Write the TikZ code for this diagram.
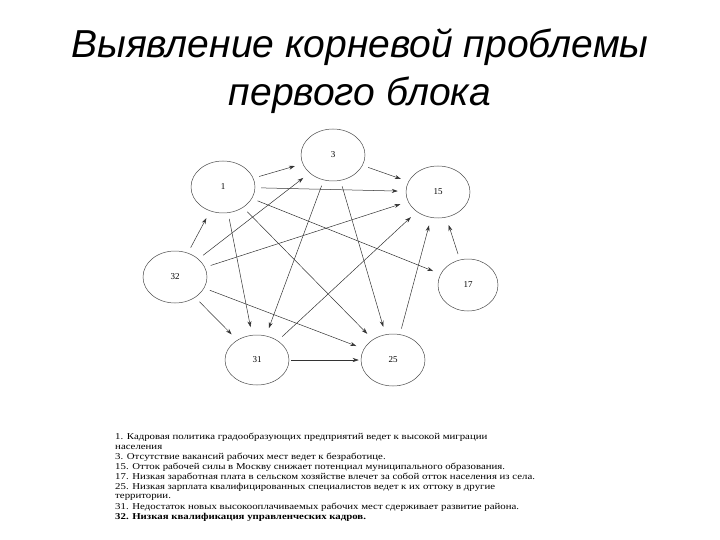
\documentclass[tikz,border=0pt]{standalone}
\usepackage{fontspec}
\setmainfont{Liberation Serif}
\newfontfamily\titlefont{Liberation Sans}
\usetikzlibrary{shapes.geometric,arrows.meta}
\begin{document}
\begin{tikzpicture}[x=1pt,y=-1pt,
  st/.style={draw=black!70,ellipse,line width=0.5pt,minimum width=64pt,minimum height=52pt,inner sep=0pt,font=\fontsize{9}{10}\selectfont},
  ed/.style={draw=black!80,line width=0.5pt,-{Stealth[length=6pt,width=4pt]},shorten >=8pt,shorten <=6pt},
  lg/.style={anchor=west,inner sep=0pt,xscale=1.2,font=\fontsize{9}{10}\selectfont}]
\useasboundingbox (0,0) rectangle (720,540);
\node[font=\titlefont\itshape\fontsize{39}{48}\selectfont,align=center] (title) at (360,71) {Выявление корневой проблемы\\первого блока};
\node[st] (n3) at (333,155) {3};
\node[st] (n1) at (223,187) {1};
\node[st] (n15) at (438,192) {15};
\node[st] (n32) at (175,277) {32};
\node[st,minimum width=60pt] (n17) at (468,285) {17};
\node[st,minimum height=50pt] (n31) at (257,360) {31};
\node[st] (n25) at (393,360) {25};
\draw[ed] (n1) -- (n3);
\draw[ed] (n3) -- (n15);
\draw[ed] (n1) -- (n15);
\draw[ed] (n1) -- (n17);
\draw[ed] (n1) -- (n31);
\draw[ed] (n1) -- (n25);
\draw[ed] (n3) -- (n31);
\draw[ed] (n3) -- (n25);
\draw[ed] (n32) -- (n1);
\draw[ed] (n32) -- (n3);
\draw[ed] (n32) -- (n15);
\draw[ed] (n32) -- (n31);
\draw[ed] (n32) -- (n25);
\draw[ed,shorten <=2pt,shorten >=2pt] (n31) -- (n25);
\draw[ed] (n31) -- (n15);
\draw[ed] (n25) -- (n15);
\draw[ed] (n17) -- (n15);
\node[lg] (l1) at (115,437) {1. Кадровая политика градообразующих предприятий ведет к высокой миграции};
\node[lg] (l1b) at (115,447) {населения};
\node[lg] (l2) at (115,457) {3. Отсутствие вакансий рабочих мест ведет к безработице.};
\node[lg] (l3) at (115,467) {15. Отток рабочей силы в Москву снижает потенциал муниципального образования.};
\node[lg] (l4) at (115,477) {17. Низкая заработная плата в сельском хозяйстве влечет за собой отток населения из села.};
\node[lg] (l5) at (115,487) {25. Низкая зарплата квалифицированных специалистов ведет к их оттоку в другие};
\node[lg] (l5b) at (115,497) {территории.};
\node[lg] (l6) at (115,507) {31. Недостаток новых высокооплачиваемых рабочих мест сдерживает развитие района.};
\node[lg,font=\fontsize{9}{10}\selectfont\bfseries] (l7) at (115,517) {32. Низкая квалификация управленческих кадров.};
\end{tikzpicture}
\end{document}
